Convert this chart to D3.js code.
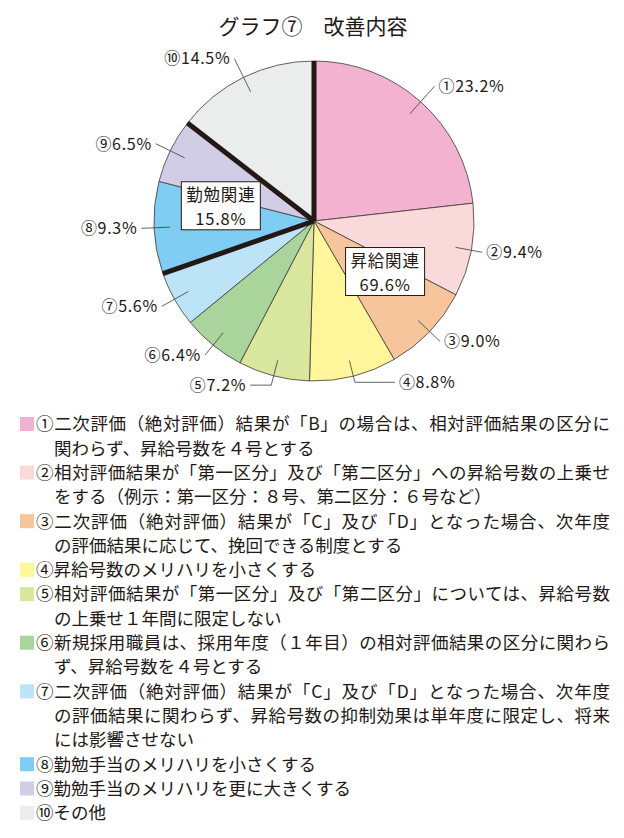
<!DOCTYPE html>
<html>
<head>
<meta charset="utf-8">
<script src="https://cdn.jsdelivr.net/npm/d3@7"></script>
<style>
  body { margin: 0; background: #fff; }
  svg { font-family: "Noto Sans CJK JP", "Noto Sans", sans-serif; }
</style>
</head>
<body>
<div id="chart"></div>
<script>
// data
var marks = ["①", "②", "③", "④", "⑤", "⑥", "⑦", "⑧", "⑨", "⑩"];
var values = [23.2, 9.4, 9.0, 8.8, 7.2, 6.4, 5.6, 9.3, 6.5, 14.5];
var colors = ["#f3b2cf", "#f9d9d9", "#f7c59b", "#fff59a", "#d9e69e",
              "#a9d49b", "#bde3f7", "#7fcdf2", "#d1cde6", "#ebeded"];
var groupNames = ["昇給関連", "勤勉関連"];
var groupValues = [69.6, 15.8];
var groupFirst = [0, 7];   // first slice of each group
var groupLast = [6, 8];    // last slice of each group
var legendLines = [
  ["①二次評価（絶対評価）結果が「B」の場合は、相対評価結果の区分に", "関わらず、昇給号数を４号とする"],
  ["②相対評価結果が「第一区分」及び「第二区分」への昇給号数の上乗せ", "をする（例示：第一区分：８号、第二区分：６号など）"],
  ["③二次評価（絶対評価）結果が「C」及び「D」となった場合、次年度", "の評価結果に応じて、挽回できる制度とする"],
  ["④昇給号数のメリハリを小さくする"],
  ["⑤相対評価結果が「第一区分」及び「第二区分」については、昇給号数", "の上乗せ１年間に限定しない"],
  ["⑥新規採用職員は、採用年度（１年目）の相対評価結果の区分に関わら", "ず、昇給号数を４号とする"],
  ["⑦二次評価（絶対評価）結果が「C」及び「D」となった場合、次年度", "の評価結果に関わらず、昇給号数の抑制効果は単年度に限定し、将来", "には影響させない"],
  ["⑧勤勉手当のメリハリを小さくする"],
  ["⑨勤勉手当のメリハリを更に大きくする"],
  ["⑩その他"]
];

var width = 624, height = 838;
var cx = 314, cy = 221, radius = 160;

var svg = d3.select("#chart")
    .append("svg")
    .attr("width", width)
    .attr("height", height);

// title
svg.append("text")
    .attr("x", 313)
    .attr("y", 34)
    .attr("text-anchor", "middle")
    .attr("font-size", 21)
    .attr("fill", "#231815")
    .text("グラフ⑦　改善内容");

var pie = d3.pie().sort(null).value(function(d) { return d; });
var arcs = pie(values);

var arc = d3.arc().innerRadius(0).outerRadius(radius);

var g = svg.append("g")
    .attr("transform", `translate(${cx}, ${cy})`);

// slices
g.selectAll("path.slice")
    .data(arcs)
    .enter()
    .append("path")
    .attr("class", "slice")
    .attr("d", arc)
    .attr("fill", function(d, i) { return colors[i]; })
    .attr("stroke", "#3e3a39")
    .attr("stroke-width", 0.8);

// thick separators between groups
var cuts = [arcs[0].startAngle, arcs[groupLast[0]].endAngle, arcs[groupLast[1]].endAngle];
g.selectAll("line.cut")
    .data(cuts)
    .enter()
    .append("line")
    .attr("x1", 0).attr("y1", 0)
    .attr("x2", function(a) { return radius * Math.sin(a); })
    .attr("y2", function(a) { return -radius * Math.cos(a); })
    .attr("stroke", "#231815")
    .attr("stroke-width", 5);

// leader lines + labels
var lead = [1.13, 1.07, 1.09, 1.04, 1.06, 1.08, 1.09, 1.08, 1.1, 1.13];
var elbow = [0, 0, 0, 40, -21, 0, 0, 0, 0, 0];

arcs.forEach(function(d, i) {
    var mid = (d.startAngle + d.endAngle) / 2;
    var p0 = [radius * 0.9 * Math.sin(mid), -radius * 0.9 * Math.cos(mid)];
    var p1 = [radius * lead[i] * Math.sin(mid), -radius * lead[i] * Math.cos(mid)];
    var p2 = [p1[0] + elbow[i], p1[1]];
    var right = p1[0] > 0;
    g.append("polyline")
        .attr("points", [p0, p1, p2].map(function(p) { return p.join(","); }).join(" "))
        .attr("fill", "none")
        .attr("stroke", "#3e3a39")
        .attr("stroke-width", 0.8);
    g.append("text")
        .attr("x", p2[0] + (right ? 4 : -4))
        .attr("y", p2[1])
        .attr("dy", "0.36em")
        .attr("text-anchor", right ? "start" : "end")
        .attr("font-size", 16)
        .attr("letter-spacing", 0.7)
        .attr("fill", "#231815")
        .text(marks[i] + values[i].toFixed(1) + "%");
});

// group boxes
groupNames.forEach(function(name, k) {
    var a0 = arcs[groupFirst[k]].startAngle, a1 = arcs[groupLast[k]].endAngle;
    var mid = (a0 + a1) / 2;
    var rr = k === 0 ? radius * 0.545 : radius * 0.59;
    var bx = rr * Math.sin(mid), by = -rr * Math.cos(mid);
    var box = g.append("g").attr("transform", `translate(${bx}, ${by})`);
    box.append("rect")
        .attr("x", -39.5).attr("y", -24)
        .attr("width", 79).attr("height", 48)
        .attr("fill", "#fff")
        .attr("stroke", "#231815")
        .attr("stroke-width", 1);
    var t = box.append("text")
        .attr("text-anchor", "middle")
        .attr("font-size", 16.5)
        .attr("fill", "#231815");
    t.append("tspan")
        .attr("x", 0)
        .attr("y", -5)
        .attr("letter-spacing", 0.8)
        .text(name);
    t.append("tspan")
        .attr("x", 0)
        .attr("y", 19)
        .attr("letter-spacing", 0.8)
        .text(groupValues[k].toFixed(1) + "%");
});

// legend
var lineH = 24.3;
var row = 0;
var legend = svg.append("g").attr("transform", "translate(0, 424)");
legendLines.forEach(function(lines, i) {
    legend.append("rect")
        .attr("x", 20)
        .attr("y", row * lineH - 7)
        .attr("width", 14)
        .attr("height", 14)
        .attr("fill", colors[i]);
    lines.forEach(function(t, j) {
        var x0 = j === 0 ? 36 : 54;
        var txt = legend.append("text")
            .attr("x", x0)
            .attr("y", row * lineH)
            .attr("dy", "0.36em")
            .attr("font-size", 17.5)
            .attr("fill", "#231815")
            .text(t);
        if (j < lines.length - 1) {
            txt.attr("textLength", 610 - x0).attr("lengthAdjust", "spacing");
        }
        row++;
    });
});
</script>
</body>
</html>
